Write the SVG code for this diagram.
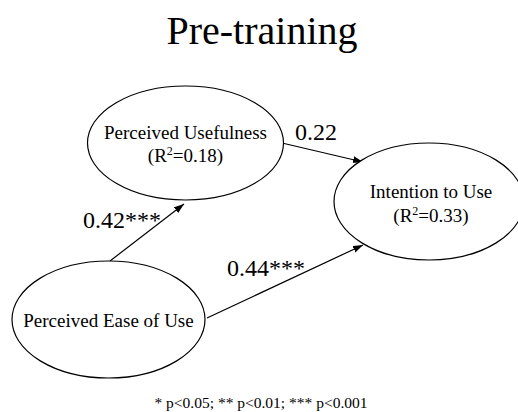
<svg xmlns="http://www.w3.org/2000/svg" width="518" height="412" viewBox="0 0 518 412" font-family="'Liberation Serif', 'Times New Roman', serif">
  <style>
    text { font-family: "Liberation Serif", "Times New Roman", serif; fill: #000; }
    .node ellipse { fill: #fff; stroke: #000; stroke-width: 1.2; }
    .node text { font-size: 19px; text-anchor: middle; }
    .edge { stroke: #000; stroke-width: 1.2; fill: none; marker-end: url(#arrow); }
    .lbl { font-size: 24px; }
    .title { font-size: 40px; text-anchor: middle; }
    .note { font-size: 15.5px; text-anchor: middle; }
    .sup { font-size: 12px; }
  </style>
  <defs>
    <marker id="arrow" markerUnits="userSpaceOnUse" markerWidth="11" markerHeight="8" refX="10" refY="3.5" orient="auto">
      <path d="M0,0 L10,3.5 L0,7 z" fill="#000"/>
    </marker>
  </defs>

  <text class="title" x="262" y="44">Pre-training</text>

  <g id="connectors">
    <line class="edge" x1="110" y1="261" x2="184" y2="204"/>
    <line class="edge" x1="282" y1="143" x2="363" y2="162"/>
    <line class="edge" x1="207" y1="318" x2="363" y2="245"/>
    <text class="lbl" x="83" y="228">0.42***</text>
    <text class="lbl" x="295" y="140">0.22</text>
    <text class="lbl" x="227" y="276">0.44***</text>
  </g>

  <g id="node-pu" class="node">
    <ellipse cx="185.5" cy="143" rx="98" ry="57"/>
    <text x="185.5" y="139">Perceived Usefulness</text>
    <text x="185.5" y="162">(R<tspan class="sup" dy="-7">2</tspan><tspan dy="7">=0.18)</tspan></text>
  </g>

  <g id="node-iu" class="node">
    <ellipse cx="429" cy="201.5" rx="95" ry="58.5"/>
    <text x="431" y="198">Intention to Use</text>
    <text x="431" y="222">(R<tspan class="sup" dy="-7">2</tspan><tspan dy="7">=0.33)</tspan></text>
  </g>

  <g id="node-peu" class="node">
    <ellipse cx="108.5" cy="319.5" rx="96.5" ry="58.5"/>
    <text x="108.5" y="326.5">Perceived Ease of Use</text>
  </g>

  <text class="note" x="261" y="408">* p&lt;0.05; ** p&lt;0.01; *** p&lt;0.001</text>
</svg>
